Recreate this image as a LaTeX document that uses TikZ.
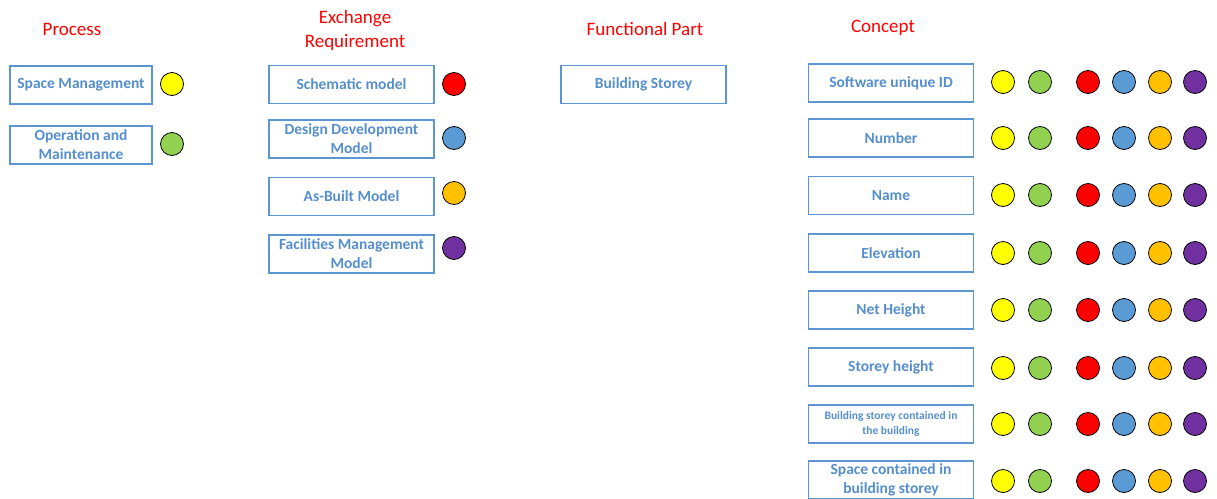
\documentclass[tikz,border=0pt]{standalone}
\usepackage{fontspec}
\setmainfont{Carlito}
\definecolor{boxblue}{RGB}{91,150,210}
\definecolor{textblue}{RGB}{85,142,205}
\definecolor{dotyellow}{RGB}{255,255,0}
\definecolor{dotgreen}{RGB}{146,208,80}
\definecolor{dotred}{RGB}{255,0,0}
\definecolor{dotblue}{RGB}{91,155,213}
\definecolor{dotorange}{RGB}{255,192,0}
\definecolor{dotpurple}{RGB}{112,48,160}

\begin{document}
\begin{tikzpicture}[x=1pt, y=-1pt,
  box/.style={draw=boxblue, line width=1.2pt, minimum width=165pt,
              minimum height=38pt, align=center, text=textblue,
              font=\bfseries\fontsize{15.5}{19}\selectfont, inner sep=2pt},
  smallbox/.style={box, font=\bfseries\fontsize{11.5}{15}\selectfont},
  dot/.style={circle, draw=black, line width=0.8pt, minimum size=23pt, inner sep=0pt},
  heading/.style={text=red, font=\fontsize{19}{24}\selectfont, align=center}
]
  \useasboundingbox (0,0) rectangle (1217,498);

  % headings
  \node[heading] (hproc) at (72,29) {Process};
  \node[heading] (hexch) at (355,30) {Exchange\\Requirement};
  \node[heading] (hfunc) at (645,29) {Functional Part};
  \node[heading] (hconc) at (883,28) {Concept};

  % process
  \node[box, minimum width=142pt] (spm) at (81,85) {Space Management};
  \node[dot, fill=dotyellow] (spmdot) at (172,84) {};
  \node[box, minimum width=142pt] (opm) at (81,145) {Operation and\\Maintenance};
  \node[dot, fill=dotgreen] (opmdot) at (172,144) {};

  % exchange requirements
  \node[box] (sch) at (351.5,84.5) {Schematic model};
  \node[dot, fill=dotred] (schdot) at (454,84) {};
  \node[box] (ddm) at (351.5,139) {Design Development\\Model};
  \node[dot, fill=dotblue] (ddmdot) at (454,138) {};
  \node[box] (abm) at (351.5,196.5) {As-Built Model};
  \node[dot, fill=dotorange] (abmdot) at (454,193) {};
  \node[box] (fmm) at (351.5,254) {Facilities Management\\Model};
  \node[dot, fill=dotpurple] (fmmdot) at (454,248) {};

  % functional part
  \node[box] (bst) at (643.5,84.5) {Building Storey};

  % concepts
  \node[box] (c1) at (891,83) {Software unique ID};
  \node[box] (c2) at (891,138) {Number};
  \node[box] (c3) at (891,195.5) {Name};
  \node[box] (c4) at (891,253) {Elevation};
  \node[box] (c5) at (891,310) {Net Height};
  \node[box] (c6) at (891,367) {Storey height};
  \node[smallbox] (c7) at (891,424) {Building storey contained in\\the building};
  \node[box] (c8) at (891,480) {Space contained in\\building storey};

  \foreach \row/\y in {1/82,2/138,3/195,4/253,5/310,6/368,7/424,8/481}
    \foreach \col/\x/\clr in {a/1003/dotyellow, b/1040/dotgreen, c/1088/dotred,
                              d/1124/dotblue, e/1160/dotorange, f/1195/dotpurple}
      \node[dot, fill=\clr] (d\row\col) at (\x,\y) {};
\end{tikzpicture}
\end{document}
